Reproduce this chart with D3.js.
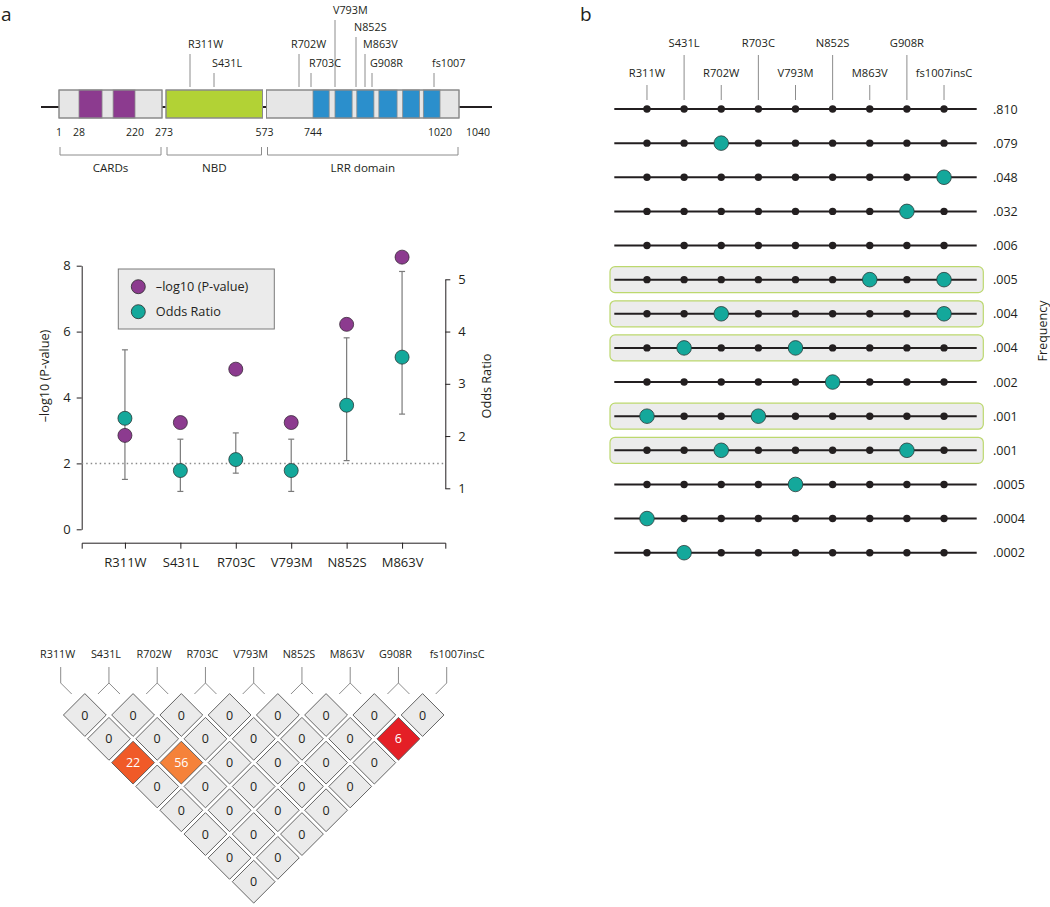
<!DOCTYPE html>
<html><head><meta charset="utf-8">
<script src="https://cdn.jsdelivr.net/npm/d3@7/dist/d3.min.js"></script>
<style>
body{margin:0;background:#fff}
svg{display:block}
text{font-family:"Open Sans",sans-serif;fill:#231f20}
</style>
</head><body>
<svg id="c" width="1050" height="907"></svg>
<script>
// ================= DATA =================
// Protein domain map (NOD2)
const domainNames  = ['CARDs', 'NBD', 'LRR domain'];
const domainStarts = [1, 273, 573];
const domainEnds   = [273, 573, 1040];
const cardStarts = [28, 145];
const cardEnds   = [107, 220];
const lrrStarts = [744, 793, 853, 919, 957, 990];
const lrrEnds   = [780, 841, 911, 948, 984, 1020];
const positionLabels = [1, 28, 220, 273, 573, 744, 1020, 1040];
const mapVariants = ['R311W', 'S431L', 'R702W', 'R703C', 'V793M', 'N852S', 'M863V', 'G908R', 'fs1007'];
const mapResidues = [311, 431, 702, 703, 793, 852, 863, 908, 1007];

// Association plot
const assocVariants = ['R311W', 'S431L', 'R703C', 'V793M', 'N852S', 'M863V'];
const negLog10P = [2.85, 3.24, 4.86, 3.24, 6.22, 8.26];
const oddsRatio = [2.34, 1.34, 1.55, 1.34, 2.59, 3.51];
const orLower   = [1.17, 0.94, 1.29, 0.94, 1.53, 2.42];
const orUpper   = [3.65, 1.94, 2.06, 1.94, 3.88, 5.15];
const leftTicks  = [0, 2, 4, 6, 8];
const rightTicks = [1, 2, 3, 4, 5];
const significanceLine = 2;

// LD triangle
const ldVariants = ['R311W', 'S431L', 'R702W', 'R703C', 'V793M', 'N852S', 'M863V', 'G908R', 'fs1007insC'];
const ldRows = [
  [0, 0, 0, 0, 0, 0, 0, 0],
  [0, 0, 0, 0, 0, 0, 6],
  [22, 56, 0, 0, 0, 0],
  [0, 0, 0, 0, 0],
  [0, 0, 0, 0],
  [0, 0, 0],
  [0, 0],
  [0]
];

// Haplotypes
const hapVariants = ['R311W', 'S431L', 'R702W', 'R703C', 'V793M', 'N852S', 'M863V', 'G908R', 'fs1007insC'];
const hapFrequencies = ['.810', '.079', '.048', '.032', '.006', '.005', '.004', '.004', '.002', '.001', '.001', '.0005', '.0004', '.0002'];
const hapAlleles = [
  [],
  ['R702W'],
  ['fs1007insC'],
  ['G908R'],
  [],
  ['M863V', 'fs1007insC'],
  ['R702W', 'fs1007insC'],
  ['S431L', 'V793M'],
  ['N852S'],
  ['R311W', 'R703C'],
  ['R702W', 'G908R'],
  ['V793M'],
  ['R311W'],
  ['S431L']
];
const hapHighlighted = [false, false, false, false, false, true, true, true, false, true, true, false, false, false];

// ================= STYLE =================
const C = {
  purple: '#8c3b8f', teal: '#14a89b', green: '#b2d235', blue: '#2b8fcc',
  box: '#e6e6e6', boxStroke: '#8a8a8a', grey: '#8c8c8c', dark: '#231f20',
  cell: '#ebebeb', hlStroke: '#bcd86e'
};
const ldColor = d3.scaleOrdinal().domain([6, 22, 56]).range(['#e41f26', '#f05a28', '#f5823a']);

const svg = d3.select('#c');

// panel letters
svg.append('text').attr('x', 1).attr('y', 21).style('font-size', '19px').text('a');
svg.append('text').attr('x', 580).attr('y', 21).style('font-size', '19px').text('b');

// ================= PROTEIN MAP =================
(function () {
  const g = svg.append('g');
  const x = d3.scaleLinear()
    .domain([1, 28, 220, 273, 311, 431, 573, 702, 703, 744, 793, 852, 863, 908, 1007, 1020, 1040])
    .range([59, 79, 135, 164, 190, 214, 264.5, 299, 311, 313, 335, 356, 365, 372, 434, 440, 459]);
  const yTop = 90, yBot = 118, yMid = 107;
  g.append('line').attr('x1', 41).attr('x2', 492).attr('y1', yMid).attr('y2', yMid)
    .attr('stroke', C.dark).attr('stroke-width', 2);
  const gap = [0, 2, 2], gapR = [2, 2, 0];
  const boxes = domainNames.map((n, i) => ({ n, x0: x(domainStarts[i]) + gap[i], x1: x(domainEnds[i]) - gapR[i], i }));
  g.selectAll('rect.dom').data(boxes).join('rect').attr('class', 'dom')
    .attr('x', d => d.x0).attr('y', yTop).attr('width', d => d.x1 - d.x0).attr('height', yBot - yTop)
    .attr('fill', d => d.i === 1 ? C.green : C.box).attr('stroke', C.boxStroke).attr('stroke-width', 1);
  g.selectAll('rect.card').data(cardStarts.map((s, i) => [s, cardEnds[i]])).join('rect').attr('class', 'card')
    .attr('x', d => x(d[0])).attr('y', yTop).attr('width', d => x(d[1]) - x(d[0])).attr('height', yBot - yTop)
    .attr('fill', C.purple).attr('stroke', C.boxStroke).attr('stroke-width', 0.8);
  g.selectAll('rect.lrr').data(lrrStarts.map((s, i) => [s, lrrEnds[i]])).join('rect').attr('class', 'lrr')
    .attr('x', d => x(d[0])).attr('y', yTop).attr('width', d => x(d[1]) - x(d[0])).attr('height', yBot - yTop)
    .attr('fill', C.blue).attr('stroke', C.boxStroke).attr('stroke-width', 0.8);
  g.selectAll('rect.outl').data(boxes).join('rect').attr('class', 'outl')
    .attr('x', d => d.x0).attr('y', yTop).attr('width', d => d.x1 - d.x0).attr('height', yBot - yTop)
    .attr('fill', 'none').attr('stroke', C.boxStroke).attr('stroke-width', 1);
  // position numbers
  g.selectAll('text.pos').data(positionLabels).join('text').attr('class', 'pos')
    .attr('x', d => d === 1040 ? x(d) + 7 : x(d)).attr('y', 136)
    .attr('text-anchor', d => d === 1040 ? 'start' : 'middle')
    .style('font-size', '10.5px').text(d => d);
  // brackets
  const br = g.selectAll('g.br').data(boxes).join('g').attr('class', 'br');
  br.append('path').attr('d', d => `M${d.x0 + 1},147V155H${d.x1 - 1}V147`)
    .attr('fill', 'none').attr('stroke', C.grey).attr('stroke-width', 1);
  br.append('text').attr('x', d => (d.x0 + d.x1) / 2).attr('y', 172).attr('text-anchor', 'middle')
    .style('font-size', '11.6px').text(d => d.n);
  // variant labels (label rows chosen to avoid crowding)
  const tierY = { 'V793M': 10, 'N852S': 27, 'R311W': 44, 'R702W': 44, 'M863V': 44 };
  const vs = mapVariants.map((v, i) => ({ v, px: x(mapResidues[i]), ty: tierY[v] !== undefined ? tierY[v] : 63 }));
  g.selectAll('line.vl').data(vs).join('line').attr('class', 'vl')
    .attr('x1', d => d.px).attr('x2', d => d.px).attr('y1', d => d.ty + 10).attr('y2', 87)
    .attr('stroke', C.grey).attr('stroke-width', 1);
  g.selectAll('text.vt').data(vs).join('text').attr('class', 'vt')
    .attr('x', d => d.v === 'R702W' ? d.px - 8 : d.px - 2).attr('y', d => d.ty + 4)
    .style('font-size', '10.8px').text(d => d.v);
})();

// ================= ASSOCIATION PLOT =================
(function () {
  const g = svg.append('g');
  const x = d3.scalePoint().domain(assocVariants).range([81.7, 445.3]).padding(0.78);
  const yL = d3.scaleLinear().domain([0, 8]).range([529.3, 265.7]);
  const yR = d3.scaleLinear().domain([1, 5]).range([488.3, 279.3]);
  const axL = g.append('g').attr('transform', 'translate(81.7,0)')
    .call(d3.axisLeft(yL).tickValues(leftTicks).tickFormat(d3.format('d')).tickSize(5).tickSizeOuter(0).tickPadding(6));
  const axR = g.append('g').attr('transform', 'translate(445.3,0)')
    .call(d3.axisRight(yR).tickValues(rightTicks).tickFormat(d3.format('d')).tickSize(5).tickSizeOuter(0).tickPadding(8));
  const axB = g.append('g').attr('transform', 'translate(0,542.7)')
    .call(d3.axisBottom(x).tickSize(6).tickSizeOuter(6).tickPadding(9));
  [axL, axR, axB].forEach(a => {
    a.selectAll('path,line').attr('stroke', C.dark).attr('stroke-width', 1);
    a.selectAll('text').style('font-size', '13px').style('font-family', '"Open Sans",sans-serif').attr('fill', C.dark);
  });
  // axis titles
  g.append('text').attr('transform', 'translate(49,376) rotate(-90)').attr('text-anchor', 'middle')
    .style('font-size', '12.7px').text('\u2013log10 (P-value)');
  g.append('text').attr('transform', 'translate(491,386) rotate(-90)').attr('text-anchor', 'middle')
    .style('font-size', '12.7px').text('Odds Ratio');
  // significance line
  g.append('line').attr('x1', 81.7).attr('x2', 445.3).attr('y1', yL(significanceLine)).attr('y2', yL(significanceLine))
    .attr('stroke', '#8a8a8a').attr('stroke-width', 1.5).attr('stroke-dasharray', '1.5,3');
  const rows = assocVariants.map((v, i) => ({ v, p: negLog10P[i], or: oddsRatio[i], lo: orLower[i], hi: orUpper[i] }));
  // error bars
  const eb = g.selectAll('g.eb').data(rows).join('g').attr('class', 'eb');
  eb.append('line').attr('x1', d => x(d.v)).attr('x2', d => x(d.v)).attr('y1', d => yR(d.lo)).attr('y2', d => yR(d.hi))
    .attr('stroke', '#7a7a7a').attr('stroke-width', 1.2);
  eb.selectAll('line.cap').data(d => [d.lo, d.hi].map(val => ({ x: x(d.v), y: yR(val) }))).join('line').attr('class', 'cap')
    .attr('x1', d => d.x - 3).attr('x2', d => d.x + 3).attr('y1', d => d.y).attr('y2', d => d.y)
    .attr('stroke', '#7a7a7a').attr('stroke-width', 1.2);
  // points
  g.selectAll('circle.or').data(rows).join('circle').attr('class', 'or')
    .attr('cx', d => x(d.v)).attr('cy', d => yR(d.or)).attr('r', 7)
    .attr('fill', C.teal).attr('stroke', '#2a3a38').attr('stroke-width', 0.8);
  g.selectAll('circle.p').data(rows).join('circle').attr('class', 'p')
    .attr('cx', d => x(d.v)).attr('cy', d => yL(d.p)).attr('r', 7)
    .attr('fill', C.purple).attr('stroke', '#3a2a3a').attr('stroke-width', 0.8);
  // legend
  const lg = g.append('g');
  lg.append('rect').attr('x', 118.3).attr('y', 269).attr('width', 156).attr('height', 60)
    .attr('fill', '#ebebeb').attr('stroke', '#7a7a7a').attr('stroke-width', 1);
  const items = [{ t: '\u2013log10 (P-value)', c: C.purple }, { t: 'Odds Ratio', c: C.teal }];
  const li = lg.selectAll('g.li').data(items).join('g').attr('class', 'li')
    .attr('transform', (d, i) => `translate(138.3,${286.7 + i * 25})`);
  li.append('circle').attr('r', 7).attr('fill', d => d.c).attr('stroke', '#2a2a2a').attr('stroke-width', 0.8);
  li.append('text').attr('x', 17.5).attr('y', 4.5).style('font-size', '12.7px').text(d => d.t);
})();

// ================= LD TRIANGLE =================
(function () {
  const g = svg.append('g');
  const x = d3.scaleLinear().domain([0, ldVariants.length - 1]).range([60.7, 446.7]);
  const yRow = d3.scaleLinear().domain([1, 8]).range([715, 881.7]);
  const h = 21.4;
  const n = ldVariants.length;
  g.selectAll('text.ll').data(ldVariants).join('text').attr('class', 'll')
    .attr('x', (d, i) => i === n - 1 ? x(i) - 17 : x(i) - 3).attr('y', 658)
    .attr('text-anchor', (d, i) => i === n - 1 ? 'start' : 'middle')
    .style('font-size', '10.8px').text(d => d);
  g.selectAll('path.cn').data(ldVariants).join('path').attr('class', 'cn')
    .attr('d', (d, i) => {
      const cx = x(i);
      let p = `M${cx},667V683`;
      if (i > 0) p += `L${cx - 11},694M${cx},683`;
      if (i < n - 1) p += `L${cx + 11},694`;
      return p;
    })
    .attr('fill', 'none').attr('stroke', C.grey).attr('stroke-width', 1);
  const cells = [];
  ldRows.forEach((row, r) => row.forEach((v, j) => {
    const k = r + 1;
    cells.push({ v, cx: (x(j) + x(j + k)) / 2, cy: yRow(k) });
  }));
  const cg = g.selectAll('g.cell').data(cells).join('g').attr('class', 'cell')
    .attr('transform', d => `translate(${d.cx},${d.cy})`);
  cg.append('path').attr('d', `M0,${-h}L${h},0L0,${h}L${-h},0Z`)
    .attr('fill', d => d.v === 0 ? C.cell : ldColor(d.v)).attr('stroke', '#555').attr('stroke-width', 0.9);
  cg.append('text').attr('y', 4.5).attr('text-anchor', 'middle').style('font-size', '12.5px')
    .style('fill', d => d.v === 0 ? C.dark : '#fff').text(d => d.v);
})();

// ================= HAPLOTYPES =================
(function () {
  const g = svg.append('g');
  const x = d3.scalePoint().domain(hapVariants).range([614.3, 976.7]).padding(0.88);
  const y = d3.scaleLinear().domain([0, hapFrequencies.length - 1]).range([109, 552.7]);
  const hdr = hapVariants.map((v, i) => ({ v, top: i % 2 === 1 }));
  g.selectAll('line.hl').data(hdr).join('line').attr('class', 'hl')
    .attr('x1', d => x(d.v)).attr('x2', d => x(d.v)).attr('y1', d => d.top ? 55 : 85).attr('y2', 100)
    .attr('stroke', C.grey).attr('stroke-width', 1);
  g.selectAll('text.ht').data(hdr).join('text').attr('class', 'ht')
    .attr('x', d => x(d.v)).attr('y', d => d.top ? 47 : 77).attr('text-anchor', 'middle')
    .style('font-size', '11.2px').text(d => d.v);
  const haps = hapFrequencies.map((f, i) => ({ f, i, alt: hapAlleles[i], hl: hapHighlighted[i] }));
  const rg = g.selectAll('g.hap').data(haps).join('g').attr('class', 'hap')
    .attr('transform', d => `translate(0,${y(d.i)})`);
  rg.filter(d => d.hl).append('rect').attr('x', 610).attr('y', -13).attr('width', 373.3).attr('height', 26)
    .attr('rx', 5).attr('fill', '#ececec').attr('stroke', C.hlStroke).attr('stroke-width', 1.2);
  rg.append('line').attr('x1', 614.3).attr('x2', 976.7).attr('stroke', C.dark).attr('stroke-width', 2);
  rg.selectAll('circle').data(d => hapVariants.map(v => ({ v, alt: d.alt.includes(v) }))).join('circle')
    .attr('cx', d => x(d.v)).attr('r', d => d.alt ? 7.3 : 3.7)
    .attr('fill', d => d.alt ? C.teal : C.dark).attr('stroke', d => d.alt ? '#2a3a38' : 'none').attr('stroke-width', 0.8);
  rg.append('text').attr('x', 993).attr('y', 4.5).style('font-size', '12.5px').text(d => d.f);
  g.append('text').attr('transform', 'translate(1047,331) rotate(-90)').attr('text-anchor', 'middle')
    .style('font-size', '12.5px').text('Frequency');
})();
</script>
</body></html>
